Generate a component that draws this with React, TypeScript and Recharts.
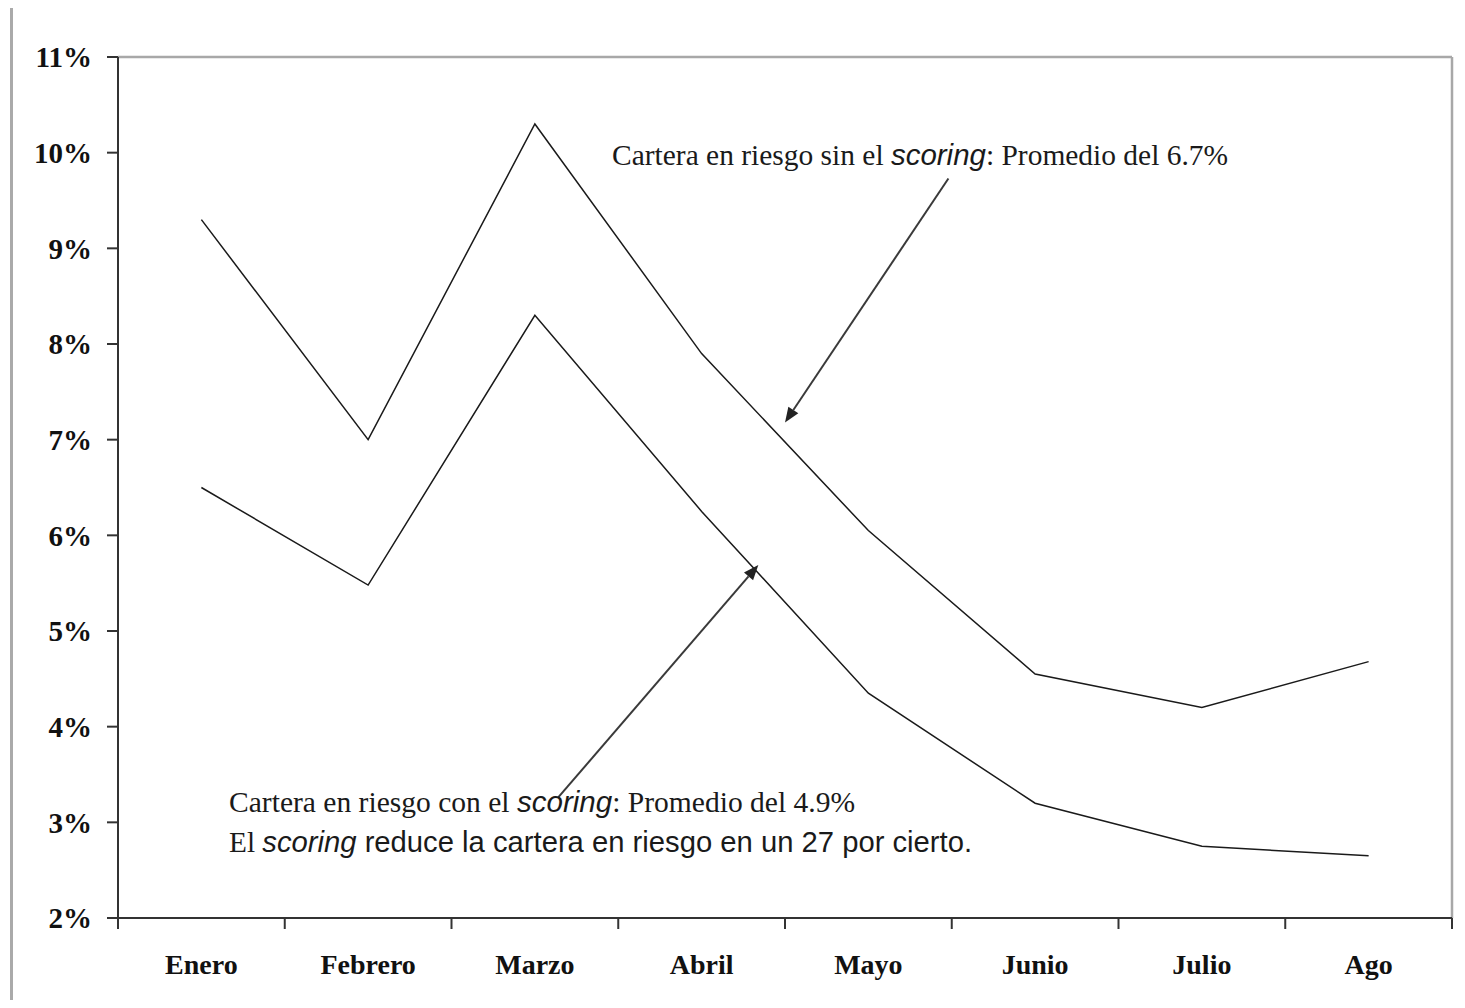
import React from 'react';
import { LineChart, Line, XAxis, YAxis, ReferenceLine, ReferenceDot } from 'recharts';

const months = ['Enero', 'Febrero', 'Marzo', 'Abril', 'Mayo', 'Junio', 'Julio', 'Ago'];
const sinScoring = [9.3, 7.0, 10.3, 7.9, 6.05, 4.55, 4.2, 4.68];
const conScoring = [6.5, 5.48, 8.3, 6.25, 4.35, 3.2, 2.75, 2.65];
const yTicks = [2, 3, 4, 5, 6, 7, 8, 9, 10, 11];
const xTicks = Array.from({ length: 17 }, (_, i) => i / 2);

const data = months.map((month, i) => ({
  month,
  pos: i + 0.5,
  sin: sinScoring[i],
  con: conScoring[i],
}));

const SERIF = '"Liberation Serif", "Times New Roman", serif';
const SANS = '"Liberation Sans", Arial, sans-serif';
const AXIS = '#333';

const MonthTick = (props: any) => {
  const { x, y, payload } = props;
  const v = payload.value;
  if (Number.isInteger(v)) {
    return <line x1={x} y1={y} x2={x} y2={y + 11} stroke={AXIS} strokeWidth={2} />;
  }
  return (
    <text x={x} y={y + 56} textAnchor="middle" fontFamily={SERIF} fontWeight="bold" fontSize={28} fill="#111">
      {months[Math.floor(v)]}
    </text>
  );
};

const Arrow = (props: any) => {
  const { x1, y1, x2, y2 } = props;
  const ang = Math.atan2(y2 - y1, x2 - x1);
  const len = 15;
  const w = 6;
  const bx = x2 - len * Math.cos(ang);
  const by = y2 - len * Math.sin(ang);
  const pts = [
    [x2, y2],
    [bx + w * Math.sin(ang), by - w * Math.cos(ang)],
    [bx - w * Math.sin(ang), by + w * Math.cos(ang)],
  ]
    .map((p) => p.join(','))
    .join(' ');
  return (
    <g>
      <line x1={x1} y1={y1} x2={bx} y2={by} stroke="#3a3a3a" strokeWidth={2} />
      <polygon points={pts} fill="#222" />
    </g>
  );
};

// annotation text: narrow serif with "scoring" in italic sans
const noteText = (parts: { t: string; it?: boolean; sans?: boolean }[], width: number) => (p: any) => (
  <text
    x={p.cx}
    y={p.cy}
    fontSize={29}
    fontFamily={SERIF}
    fill="#1a1a1a"
    textLength={width}
    lengthAdjust="spacingAndGlyphs"
  >
    {parts.map((s, i) => (
      <tspan key={i} fontStyle={s.it ? 'italic' : 'normal'} fontFamily={s.it || s.sans ? SANS : SERIF}>
        {s.t}
      </tspan>
    ))}
  </text>
);

export default function App() {
  return (
    <div style={{ position: 'relative', width: 1465, height: 1008, margin: -8, background: '#fff' }}>
      <div style={{ position: 'absolute', left: 10, top: 8, width: 3, height: 1000, background: '#aaa' }} />
      <LineChart
        width={1465}
        height={1008}
        data={data}
        margin={{ top: 57, right: 13, bottom: 30, left: 28 }}
      >
        <XAxis
          dataKey="pos"
          type="number"
          domain={[0, 8]}
          ticks={xTicks}
          interval={0}
          tickLine={false}
          tickSize={0}
          tickMargin={0}
          height={60}
          axisLine={{ stroke: AXIS, strokeWidth: 2 }}
          tick={<MonthTick />}
        />
        <YAxis
          type="number"
          domain={[2, 11]}
          ticks={yTicks}
          interval={0}
          width={90}
          tickSize={11}
          tickMargin={15}
          tickFormatter={(v: number) => `${v}%`}
          tickLine={{ stroke: AXIS, strokeWidth: 2 }}
          axisLine={{ stroke: AXIS, strokeWidth: 2 }}
          tick={{ fill: '#111', fontFamily: SERIF, fontWeight: 'bold', fontSize: 29 }}
        />
        <ReferenceLine y={11} stroke="#a8a8a8" strokeWidth={2.5} />
        <ReferenceLine x={8} stroke="#a8a8a8" strokeWidth={2.5} />
        <Line dataKey="sin" stroke="#1a1a1a" strokeWidth={1.5} dot={false} isAnimationActive={false} />
        <Line dataKey="con" stroke="#1a1a1a" strokeWidth={1.5} dot={false} isAnimationActive={false} />
        <ReferenceLine
          segment={[
            { x: 4.98, y: 9.73 },
            { x: 4.0, y: 7.18 },
          ]}
          shape={<Arrow />}
        />
        <ReferenceLine
          segment={[
            { x: 2.64, y: 3.26 },
            { x: 3.84, y: 5.69 },
          ]}
          shape={<Arrow />}
        />
        <ReferenceDot
          x={2.963}
          y={9.87}
          r={0}
          shape={noteText(
            [{ t: 'Cartera en riesgo sin el ' }, { t: 'scoring', it: true }, { t: ': Promedio del 6.7%' }],
            616
          )}
        />
        <ReferenceDot
          x={0.666}
          y={3.11}
          r={0}
          shape={noteText(
            [{ t: 'Cartera en riesgo con el ' }, { t: 'scoring', it: true }, { t: ': Promedio del 4.9%' }],
            626
          )}
        />
        <ReferenceDot
          x={0.666}
          y={2.69}
          r={0}
          shape={noteText(
            [{ t: 'El ' }, { t: 'scoring', it: true }, { t: ' reduce la cartera en riesgo en un 27 por cierto.', sans: true }],
            743
          )}
        />
      </LineChart>
    </div>
  );
}
